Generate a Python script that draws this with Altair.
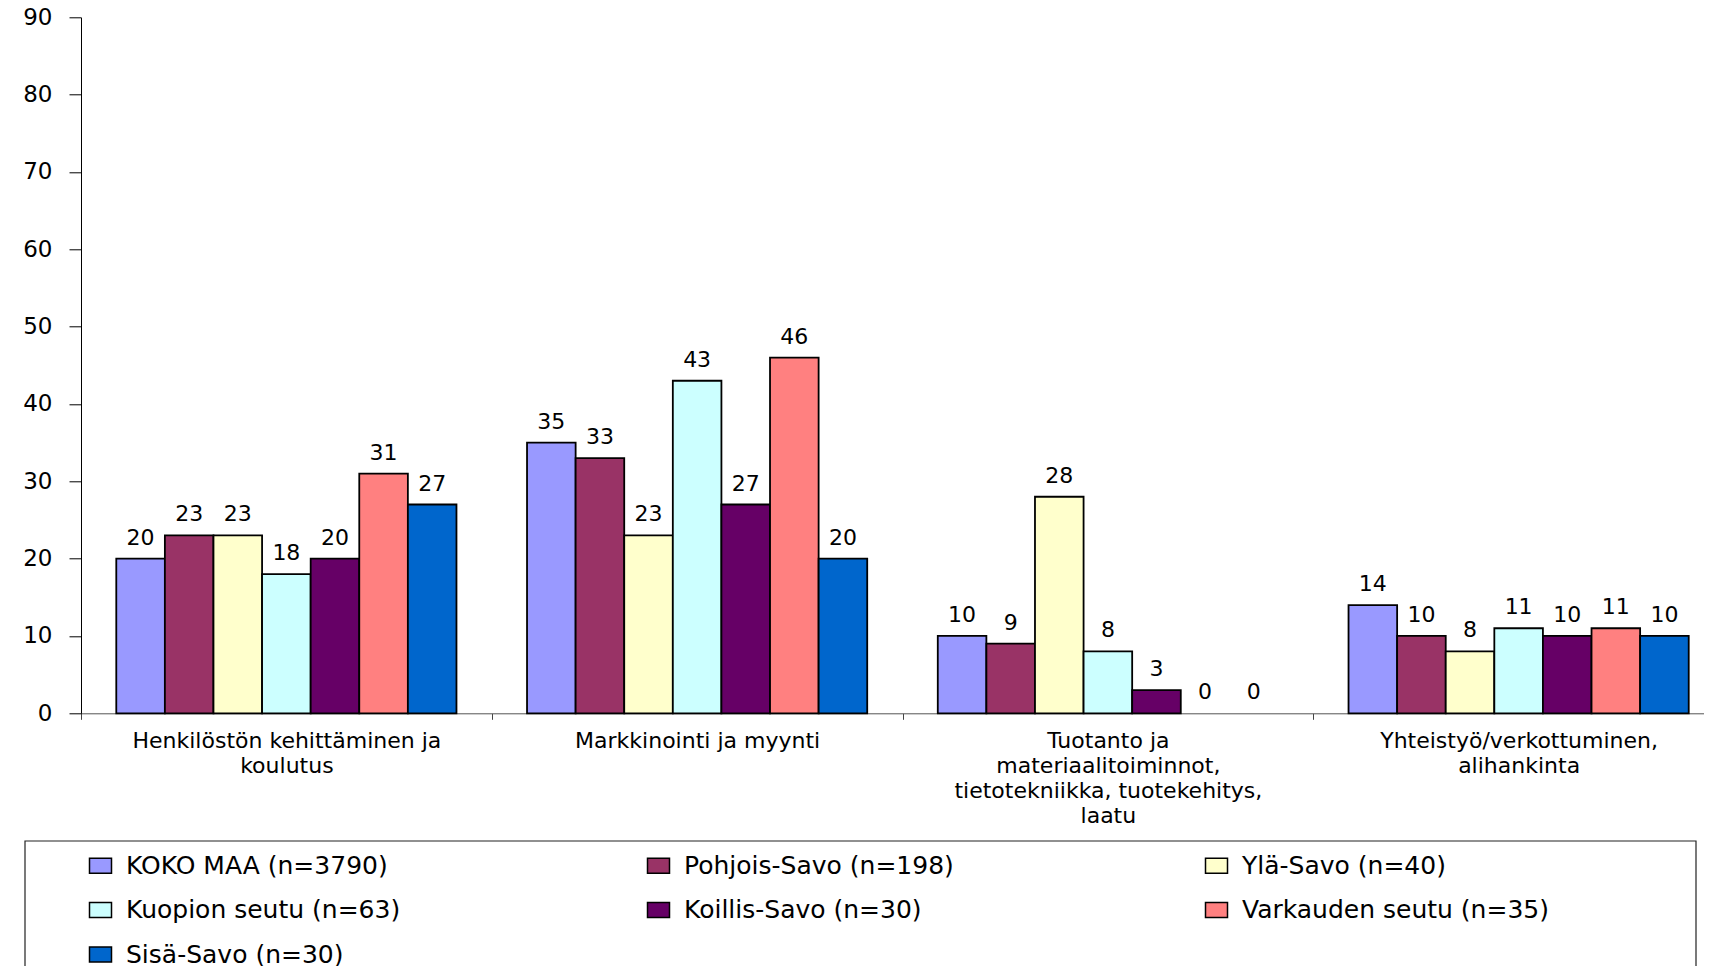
import altair as alt
import pandas as pd

categories = [
    "Henkilöstön kehittäminen ja koulutus",
    "Markkinointi ja myynti",
    "Tuotanto ja materiaalitoiminnot, tietotekniikka, tuotekehitys, laatu",
    "Yhteistyö/verkottuminen, alihankinta",
]
category_lines = [
    ["Henkilöstön kehittäminen ja", "koulutus"],
    ["Markkinointi ja myynti"],
    ["Tuotanto ja", "materiaalitoiminnot,", "tietotekniikka, tuotekehitys,", "laatu"],
    ["Yhteistyö/verkottuminen,", "alihankinta"],
]
series = [
    "KOKO MAA (n=3790)",
    "Pohjois-Savo (n=198)",
    "Ylä-Savo (n=40)",
    "Kuopion seutu (n=63)",
    "Koillis-Savo (n=30)",
    "Varkauden seutu (n=35)",
    "Sisä-Savo (n=30)",
]
colors = ["#9999FF", "#993366", "#FFFFCC", "#CCFFFF", "#660066", "#FF8080", "#0066CC"]

koko_maa = [20, 35, 10, 14]
pohjois_savo = [23, 33, 9, 10]
yla_savo = [23, 23, 28, 8]
kuopion_seutu = [18, 43, 8, 11]
koillis_savo = [20, 27, 3, 10]
varkauden_seutu = [31, 46, 0, 11]
sisa_savo = [27, 20, 0, 10]

y_ticks = [0, 10, 20, 30, 40, 50, 60, 70, 80, 90]

all_values = [koko_maa, pohjois_savo, yla_savo, kuopion_seutu, koillis_savo, varkauden_seutu, sisa_savo]
rows = []
for s, vals in zip(series, all_values):
    for c, v in zip(categories, vals):
        rows.append({"category": c, "series": s, "value": v})
df = pd.DataFrame(rows)

# label expression for wrapped category labels
expr = "''"
for c, lines in reversed(list(zip(categories, category_lines))):
    arr = "[" + ",".join("'" + l + "'" for l in lines) + "]"
    expr = f"datum.label == '{c}' ? {arr} : ({expr})"

FONT = "DejaVu Sans"

x_enc = alt.X(
    "category:N",
    sort=categories,
    scale=alt.Scale(paddingInner=0, paddingOuter=0),
    axis=alt.Axis(
        title=None,
        labelAngle=0,
        tickBand="extent",
        tickSize=6,
        tickColor="#444444",
        domainColor="#555555",
        labelExpr=expr,
        labelFont=FONT,
        labelFontSize=22,
        labelColor="black",
        labelLineHeight=25,
        labelPadding=11,
        labelBaseline="top",
        labelLimit=500,
    ),
)
xoff_enc = alt.XOffset("series:N", sort=series, scale=alt.Scale(paddingOuter=0.726, paddingInner=0))
y_enc = alt.Y(
    "value:Q",
    scale=alt.Scale(domain=[0, 90], nice=False),
    axis=alt.Axis(
        title=None,
        values=y_ticks,
        grid=False,
        tickSize=12,
        tickColor="black",
        domainColor="black",
        labelFont=FONT,
        labelFontSize=23,
        labelColor="black",
        labelPadding=17,
    ),
)

bars = alt.Chart(df).mark_bar(stroke="black", strokeWidth=1.8).encode(
    x=x_enc,
    xOffset=xoff_enc,
    y=y_enc,
    strokeOpacity=alt.condition("datum.value > 0", alt.value(1), alt.value(0)),
    color=alt.Color(
        "series:N",
        sort=series,
        scale=alt.Scale(domain=series, range=colors),
        legend=alt.Legend(
            title=None,
            orient="none",
            legendX=7,
            legendY=835.7,
            direction="horizontal",
            columns=3,
            gridAlign="all",
            columnPadding=211,
            rowPadding=18.5,
            symbolType="M-1,-0.68L1,-0.68L1,0.68L-1,0.68Z",
            symbolSize=484,
            symbolStrokeColor="black",
            symbolStrokeWidth=1.5,
            labelFont=FONT,
            labelFontSize=25,
            labelColor="black",
            labelOffset=13,
            labelLimit=600,
            padding=0,
        ),
    ),
)

labels = alt.Chart(df).mark_text(
    font=FONT, fontSize=22, baseline="alphabetic", dy=-14, color="black"
).encode(
    x=alt.X("category:N", sort=categories),
    xOffset=alt.XOffset("series:N", sort=series),
    y="value:Q",
    text="value:Q",
)

legend_box = alt.Chart(alt.Data(values=[{"box": 1}])).mark_rect(
    fill=None, stroke="#222222", strokeWidth=1.2
).encode(
    x=alt.value(-56), x2=alt.value(1615), y=alt.value(823.7), y2=alt.value(1100)
)

chart = alt.layer(bars, labels, legend_box).properties(
    width=1643,
    height=696,
    autosize=alt.AutoSizeParams(type="none"),
    padding={"left": 73, "top": 9.3, "right": -20, "bottom": 252.7},
).configure_view(stroke=None)

chart.save("out.html", embed_options={"renderer": "svg", "actions": False})
